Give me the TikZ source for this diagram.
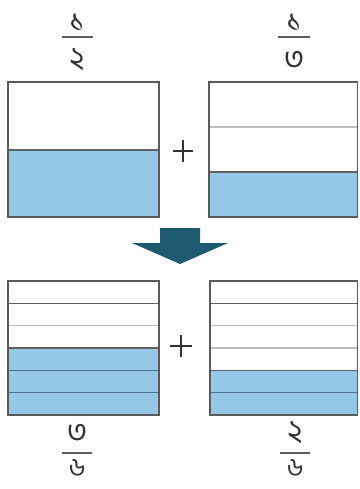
\documentclass[tikz,border=0pt]{standalone}
\usepackage{fontspec}
\newfontfamily\bnfont[Script=Bengali]{Hind Siliguri}
\definecolor{fillblue}{HTML}{95C8E6}
\definecolor{framegray}{HTML}{5A5A5A}
\definecolor{lightline}{HTML}{BDBDBD}
\definecolor{darkline}{HTML}{606060}
\definecolor{blueline}{HTML}{4F7388}
\definecolor{arrowteal}{HTML}{1F5B70}
\definecolor{txt}{HTML}{333333}
\begin{document}
\begin{tikzpicture}[x=1pt,y=-1pt,
  frame/.style={draw=framegray,line width=1.5pt},
  dline/.style={draw=darkline,line width=1.2pt},
  lline/.style={draw=lightline,line width=1.2pt},
  bline/.style={draw=blueline,line width=1.2pt},
  digit/.style={font=\bnfont\fontsize{31}{31}\selectfont,text=txt,inner sep=0pt,anchor=base},
  sixdigit/.style={digit,font=\bnfont\fontsize{26}{26}\selectfont},
  fracbar/.style={draw=txt!80,line width=1.3pt},
  plussign/.style={draw=txt,line width=2pt}]
\useasboundingbox (0,0) rectangle (359,489);
% top left : 1/2
\fill[fillblue] (8,150) rectangle (159,217);
\draw[dline] (8,150) -- (159,150);
\draw[frame] (8,82) rectangle (159,217);
% top right : 1/3
\fill[fillblue] (209,172) rectangle (357.5,217);
\draw[lline] (209,127) -- (357.5,127);
\draw[dline] (209,172) -- (357.5,172);
\draw[frame] (209,82) rectangle (357.5,217);
% plus signs
\draw[plussign] (173,151) -- (193,151) (183,140) -- (183,162);
\draw[plussign] (170,346) -- (192,346) (181,335) -- (181,357);
% arrow
\fill[arrowteal] (160,228) -- (200,228) -- (200,243) -- (228,243) -- (180,264) -- (132,243) -- (160,243) -- cycle;
% bottom left : 3/6
\fill[fillblue] (8,348) rectangle (159,415);
\draw[dline] (8,303.3) -- (159,303.3);
\draw[lline] (8,325.7) -- (159,325.7);
\draw[dline] (8,348) -- (159,348);
\draw[bline] (8,370.3) -- (159,370.3);
\draw[bline] (8,392.7) -- (159,392.7);
\draw[frame] (8,281) rectangle (159,415);
% bottom right : 2/6
\fill[fillblue] (210,370.3) rectangle (357.5,415);
\draw[dline] (210,303.3) -- (357.5,303.3);
\draw[lline] (210,325.7) -- (357.5,325.7);
\draw[lline] (210,348) -- (357.5,348);
\draw[dline] (210,370.3) -- (357.5,370.3);
\draw[bline] (210,392.7) -- (357.5,392.7);
\draw[frame] (210,281) rectangle (357.5,415);
% fractions
\node[digit] (tln) at (77,32) {১};
\node[digit] (tld) at (77,69) {২};
\draw[fracbar] (62,37) -- (93,37);
\node[digit] (trn) at (294,32) {১};
\node[digit] (trd) at (294,70) {৩};
\draw[fracbar] (278,37) -- (310,37);
\node[digit] (bln) at (77,442) {৩};
\node[sixdigit] (bld) at (77,476) {৬};
\draw[fracbar] (62,453) -- (92,453);
\node[digit] (brn) at (295,441) {২};
\node[sixdigit] (brd) at (295,476) {৬};
\draw[fracbar] (280,453) -- (310,453);
\end{tikzpicture}
\end{document}
